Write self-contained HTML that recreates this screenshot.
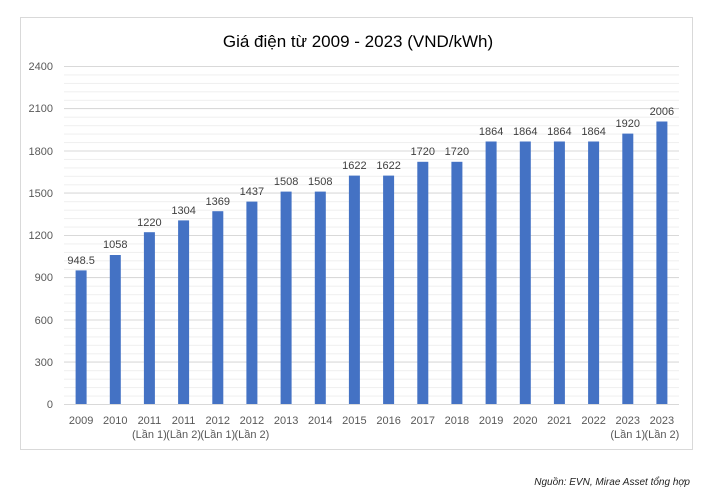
<!DOCTYPE html>
<html><head><meta charset="utf-8"><style>
html,body{margin:0;padding:0;background:#fff;}
svg{display:block;font-family:"Liberation Sans",sans-serif;}
</style></head><body>
<svg width="716" height="498" viewBox="0 0 716 498">
<defs><pattern id="mg" x="64" y="66" width="615" height="8.45" patternUnits="userSpaceOnUse"><line x1="0" x2="615" y1="0.5" y2="0.5" stroke="#efefef" stroke-width="1"/></pattern></defs>
<rect x="20.5" y="17.5" width="672" height="432" fill="#fff" stroke="#d9d9d9"/>
<text x="358" y="47" font-size="17" text-anchor="middle" fill="#000">Giá điện từ 2009 - 2023 (VND/kWh)</text>
<rect x="64" y="66" width="615" height="338" fill="url(#mg)"/>
<g stroke="#d9d9d9" stroke-width="1">
<line x1="64" x2="679" y1="66.5" y2="66.5"/><line x1="64" x2="679" y1="108.5" y2="108.5"/><line x1="64" x2="679" y1="151" y2="151"/><line x1="64" x2="679" y1="193" y2="193"/><line x1="64" x2="679" y1="235.5" y2="235.5"/><line x1="64" x2="679" y1="277.5" y2="277.5"/><line x1="64" x2="679" y1="320" y2="320"/><line x1="64" x2="679" y1="362" y2="362"/><line x1="64" x2="679" y1="404.5" y2="404.5"/>
</g>
<g font-size="11" fill="#595959" text-anchor="end">
<text x="53" y="70">2400</text><text x="53" y="112">2100</text><text x="53" y="155">1800</text><text x="53" y="197">1500</text><text x="53" y="239">1200</text><text x="53" y="281">900</text><text x="53" y="324">600</text><text x="53" y="366">300</text><text x="53" y="408">0</text>
</g>
<g fill="#4472c4">
<rect x="75.6" y="270.4" width="11" height="133.6"/>
<rect x="109.8" y="255" width="11" height="149"/>
<rect x="143.9" y="232.2" width="11" height="171.8"/>
<rect x="178.1" y="220.4" width="11" height="183.6"/>
<rect x="212.3" y="211.2" width="11" height="192.8"/>
<rect x="246.4" y="201.6" width="11" height="202.4"/>
<rect x="280.6" y="191.6" width="11" height="212.4"/>
<rect x="314.8" y="191.6" width="11" height="212.4"/>
<rect x="348.9" y="175.6" width="11" height="228.4"/>
<rect x="383.1" y="175.6" width="11" height="228.4"/>
<rect x="417.3" y="161.8" width="11" height="242.2"/>
<rect x="451.4" y="161.8" width="11" height="242.2"/>
<rect x="485.6" y="141.5" width="11" height="262.5"/>
<rect x="519.8" y="141.5" width="11" height="262.5"/>
<rect x="553.9" y="141.5" width="11" height="262.5"/>
<rect x="588.1" y="141.5" width="11" height="262.5"/>
<rect x="622.3" y="133.6" width="11" height="270.4"/>
<rect x="656.4" y="121.5" width="11" height="282.5"/>
</g>
<g font-size="11" fill="#404040" text-anchor="middle">
<text x="81.1" y="264">948.5</text><text x="115.3" y="248">1058</text><text x="149.4" y="226">1220</text><text x="183.6" y="214">1304</text><text x="217.8" y="205">1369</text><text x="251.9" y="195">1437</text><text x="286.1" y="185">1508</text><text x="320.3" y="185">1508</text><text x="354.4" y="169">1622</text><text x="388.6" y="169">1622</text><text x="422.8" y="155">1720</text><text x="456.9" y="155">1720</text><text x="491.1" y="135">1864</text><text x="525.3" y="135">1864</text><text x="559.4" y="135">1864</text><text x="593.6" y="135">1864</text><text x="627.8" y="127">1920</text><text x="661.9" y="115">2006</text>
</g>
<g font-size="11" fill="#595959" text-anchor="middle">
<text x="81.1" y="424">2009</text><text x="115.3" y="424">2010</text><text x="149.4" y="424">2011</text><text x="183.6" y="424">2011</text><text x="217.8" y="424">2012</text><text x="251.9" y="424">2012</text><text x="286.1" y="424">2013</text><text x="320.3" y="424">2014</text><text x="354.4" y="424">2015</text><text x="388.6" y="424">2016</text><text x="422.8" y="424">2017</text><text x="456.9" y="424">2018</text><text x="491.1" y="424">2019</text><text x="525.3" y="424">2020</text><text x="559.4" y="424">2021</text><text x="593.6" y="424">2022</text><text x="627.8" y="424">2023</text><text x="661.9" y="424">2023</text>
<text x="149.4" y="438">(Lần 1)</text><text x="183.6" y="438">(Lần 2)</text><text x="217.8" y="438">(Lần 1)</text><text x="251.9" y="438">(Lần 2)</text><text x="627.8" y="438">(Lần 1)</text><text x="661.9" y="438">(Lần 2)</text>
</g>
<text x="690" y="485" font-size="10" font-style="italic" fill="#222" text-anchor="end">Nguồn: EVN, Mirae Asset tổng hợp</text>
</svg>
</body></html>
